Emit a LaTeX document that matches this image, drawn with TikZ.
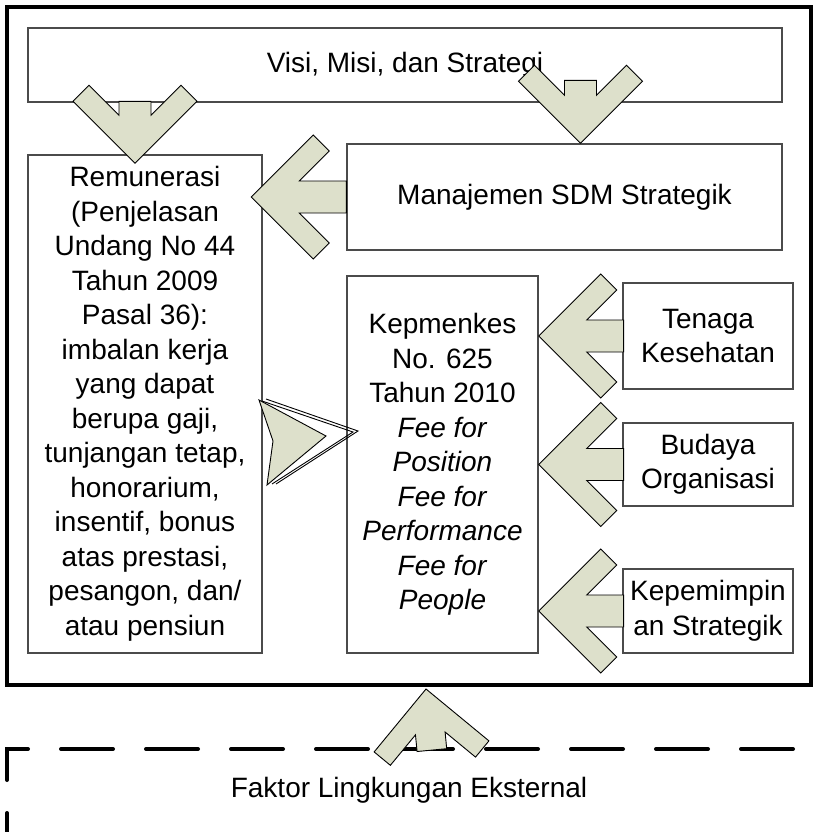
\documentclass[tikz,border=0pt]{standalone}
\usepackage{fontspec}
\setmainfont{Liberation Sans}
\usetikzlibrary{calc}
\definecolor{arrowfill}{RGB}{221,224,203}
\definecolor{boxline}{RGB}{75,75,75}
\newcommand\blockarrow[2]{%
  \begin{scope}[#1]
    \draw[barrow] (0,0) -- (-62,-62) -- (-46,-78) -- (-16,-48) -- (-16,-#2) -- (16,-#2) -- (16,-48) -- (46,-78) -- (62,-62) -- cycle;
  \end{scope}}
\begin{document}
\begin{tikzpicture}[x=1pt,y=-1pt,
  txt/.style={font=\fontsize{28}{34.5}\selectfont, align=center},
  box/.style={txt, draw=boxline, line width=1.3pt, inner sep=0pt},
  barrow/.style={fill=arrowfill, draw=black, line width=0.9pt, line join=miter},
  frame/.style={draw=black, line width=4pt, inner sep=0pt},
  extline/.style={draw=black, line width=4pt, dash pattern=on 52pt off 33pt, line cap=round, line join=miter}]
\useasboundingbox (0,0) rectangle (820,832);

% outer frame
\node[frame, minimum width=804pt, minimum height=678pt] (outer) at (409,346) {};

% boxes
\node[box, minimum width=754pt, minimum height=74pt] (visi) at (405,65) {Visi, Misi, dan Strategi};
\node[box, minimum width=234pt, minimum height=498pt] (remu) at (145,404)
  {Remunerasi\\(Penjelasan\\Undang No 44\\Tahun 2009\\Pasal 36):\\imbalan kerja\\yang dapat\\berupa gaji,\\tunjangan tetap,\\honorarium,\\insentif, bonus\\atas prestasi,\\pesangon, dan/\\atau pensiun};
\node[box, minimum width=435pt, minimum height=106pt] (manaj) at (564.5,197) {Manajemen SDM Strategik};
\node[box, minimum width=191pt, minimum height=377pt] (kep) at (442.5,464.5)
  {Kepmenkes\\No. 625\\Tahun 2010\\\textit{Fee for}\\\textit{Position}\\\textit{Fee for}\\\textit{Performance}\\\textit{Fee for}\\\textit{People}};
\node[box, minimum width=170pt, minimum height=106pt] (ten) at (708,336) {Tenaga\\Kesehatan};
\node[box, minimum width=170pt, minimum height=83pt] (bud) at (708,464.5) {Budaya\\Organisasi};
\node[box, minimum width=170pt, minimum height=84pt] (kpm) at (708,611) {Kepemimpin\\an Strategik};

% external environment
\draw[extline] (7,865) -- (7,749) -- (830,749);
\node[txt] (ext) at (409,790) {Faktor Lingkungan Eksternal};

% block arrows
\coordinate (a1) at ($(remu.north)+(-10,9)$);
\coordinate (a2) at ($(manaj.north)+(16,0)$);
\coordinate (a3) at ($(manaj.west)+(-95,0)$);
\coordinate (a4) at (kep.east |- ten.west);
\coordinate (a5) at (kep.east |- bud.west);
\coordinate (a6) at (kep.east |- kpm.west);
\coordinate (a7) at ($(outer.south)+(17,2)$);
\blockarrow{shift={(a1)}}{62}
\blockarrow{shift={(a2)}}{63}
\blockarrow{shift={(a3)},rotate=-90}{95}
\blockarrow{shift={(a4)},rotate=-90}{85}
\blockarrow{shift={(a5)},rotate=-90}{85}
\blockarrow{shift={(a6)},rotate=-90}{85}
\blockarrow{shift={(a7)},rotate=185.5,scale=0.93}{66}

% distorted arrow from Remunerasi to Kepmenkes
\draw[barrow] (259,400) -- (326,436) -- (267,485) -- (273,441) -- cycle;
\draw[black, line width=0.9pt, line join=miter] (266,399) -- (358,431) -- (276,484);
\draw[black, line width=0.9pt, line join=miter] (262,401) -- (353,432) -- (272,484);
\end{tikzpicture}
\end{document}
